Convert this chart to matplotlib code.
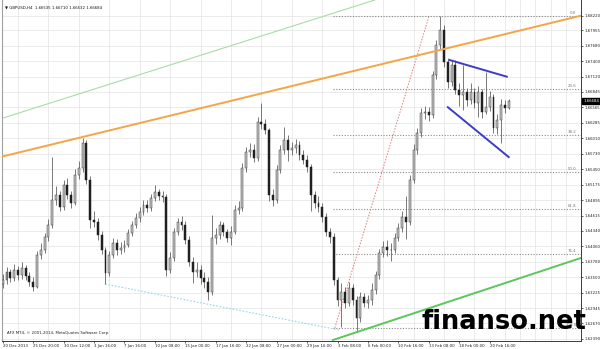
import matplotlib
matplotlib.use('Agg')
import matplotlib.pyplot as plt
import numpy as np

# GBPUSD, candles (each candle = 8 hours)
first_open = 1.6338
closes = [1.6345, 1.6360, 1.6349, 1.6364, 1.6354, 1.6367, 1.6353, 1.6342, 1.6333, 1.6391,
          1.6400, 1.6423, 1.6445, 1.6490, 1.6499, 1.6477, 1.6517, 1.6499, 1.6484, 1.6535,
          1.6547, 1.6592, 1.6526, 1.6454, 1.6450, 1.6427, 1.6400, 1.6358, 1.6391, 1.6412,
          1.6400, 1.6403, 1.6409, 1.6430, 1.6445, 1.6457, 1.6468, 1.6481, 1.6475, 1.6493,
          1.6504, 1.6497, 1.6495, 1.6364, 1.6385, 1.6432, 1.6450, 1.6445, 1.6418, 1.6378,
          1.6360, 1.6364, 1.6349, 1.6342, 1.6324, 1.6421, 1.6427, 1.6445, 1.6432, 1.6421,
          1.6432, 1.6472, 1.6475, 1.6547, 1.6576, 1.6580, 1.6565, 1.6630, 1.6627, 1.6616,
          1.6499, 1.6490, 1.6544, 1.6580, 1.6598, 1.6580, 1.6583, 1.6589, 1.6571, 1.6562,
          1.6549, 1.6499, 1.6484, 1.6477, 1.6459, 1.6432, 1.6423, 1.6345, 1.6309, 1.6324,
          1.6304, 1.6331, 1.6309, 1.6277, 1.6315, 1.6304, 1.6309, 1.6327, 1.6354, 1.6394,
          1.6405, 1.6400, 1.6400, 1.6421, 1.6439, 1.6459, 1.6450, 1.6526, 1.6580, 1.6610,
          1.6646, 1.6648, 1.6643, 1.6715, 1.6769, 1.6796, 1.6739, 1.6702, 1.6733, 1.6688,
          1.6679, 1.6684, 1.6670, 1.6684, 1.6665, 1.6684, 1.6648, 1.6657, 1.6675, 1.6619,
          1.6634, 1.6661, 1.6655, 1.66684]
highs = [1.6356, 1.6368, 1.6366, 1.6375, 1.6370, 1.6378, 1.6372, 1.6360, 1.6350, 1.6398,
         1.6412, 1.6430, 1.6456, 1.6567, 1.6515, 1.6506, 1.6526, 1.6530, 1.6505, 1.6545,
         1.6560, 1.6601, 1.6598, 1.6532, 1.6470, 1.6458, 1.6434, 1.6405, 1.6398, 1.6421,
         1.6420, 1.6413, 1.6418, 1.6437, 1.6452, 1.6466, 1.6477, 1.6490, 1.6489, 1.6501,
         1.6517, 1.6510, 1.6506, 1.6500, 1.6396, 1.6440, 1.6458, 1.6460, 1.6452, 1.6424,
         1.6386, 1.6378, 1.6372, 1.6360, 1.6350, 1.6462, 1.6440, 1.6452, 1.6450, 1.6438,
         1.6442, 1.6480, 1.6488, 1.6556, 1.6586, 1.6592, 1.6590, 1.6640, 1.6665, 1.6636,
         1.6620, 1.6510, 1.6552, 1.6588, 1.6621, 1.6606, 1.6595, 1.6600, 1.6596, 1.6580,
         1.6570, 1.6555, 1.6506, 1.6496, 1.6485, 1.6466, 1.6440, 1.6430, 1.6350, 1.6340,
         1.6332, 1.6342, 1.6338, 1.6316, 1.6324, 1.6322, 1.6318, 1.6340, 1.6362, 1.6402,
         1.6416, 1.6418, 1.6412, 1.6430, 1.6448, 1.6470, 1.6496, 1.6535, 1.6590, 1.6620,
         1.6655, 1.6660, 1.6658, 1.6722, 1.6778, 1.6822, 1.6805, 1.6746, 1.6740, 1.6742,
         1.6700, 1.6733, 1.6692, 1.6700, 1.6692, 1.6696, 1.6690, 1.6720, 1.6686, 1.6680,
         1.6645, 1.6672, 1.6670, 1.66710]
lows = [1.6330, 1.6339, 1.6341, 1.6344, 1.6346, 1.6348, 1.6345, 1.6334, 1.6326, 1.6330,
        1.6383, 1.6394, 1.6416, 1.6440, 1.6480, 1.6470, 1.6472, 1.6491, 1.6475, 1.6480,
        1.6528, 1.6540, 1.6518, 1.6440, 1.6441, 1.6418, 1.6392, 1.6338, 1.6352, 1.6385,
        1.6390, 1.6393, 1.6396, 1.6404, 1.6424, 1.6440, 1.6450, 1.6462, 1.6468, 1.6470,
        1.6487, 1.6490, 1.6486, 1.6353, 1.6358, 1.6380, 1.6426, 1.6436, 1.6410, 1.6370,
        1.6340, 1.6350, 1.6338, 1.6330, 1.6309, 1.6318, 1.6410, 1.6420, 1.6424, 1.6414,
        1.6408, 1.6428, 1.6465, 1.6470, 1.6540, 1.6568, 1.6558, 1.6560, 1.6618, 1.6608,
        1.6488, 1.6478, 1.6485, 1.6538, 1.6572, 1.6560, 1.6570, 1.6575, 1.6562, 1.6554,
        1.6540, 1.6470, 1.6475, 1.6468, 1.6450, 1.6424, 1.6412, 1.6336, 1.6298, 1.6261,
        1.6295, 1.6298, 1.6300, 1.6252, 1.6270, 1.6296, 1.6294, 1.6300, 1.6320, 1.6348,
        1.6386, 1.6388, 1.6380, 1.6394, 1.6415, 1.6432, 1.6420, 1.6444, 1.6520, 1.6572,
        1.6604, 1.6636, 1.6632, 1.6638, 1.6708, 1.6760, 1.6730, 1.6692, 1.6695, 1.6680,
        1.6660, 1.6652, 1.6660, 1.6662, 1.6655, 1.6640, 1.6637, 1.6645, 1.6650, 1.6610,
        1.6608, 1.6592, 1.6646, 1.66532]

date_labels = ['20 Dec 2013', '25 Dec 20:00', '30 Dec 12:00', '3 Jan 16:00', '7 Jan 16:00',
               '10 Jan 08:00', '15 Jan 00:00', '17 Jan 16:00', '22 Jan 08:00', '27 Jan 00:00',
               '29 Jan 16:00', '3 Feb 08:00', '6 Feb 00:00', '10 Feb 16:00', '13 Feb 08:00',
               '18 Feb 00:00', '20 Feb 16:00']
price_ticks = [1.68220, 1.67955, 1.67680, 1.67400, 1.67120, 1.66845, 1.66565, 1.66285,
               1.66010, 1.65730, 1.65450, 1.65175, 1.64895, 1.64615, 1.64340, 1.64060,
               1.63780, 1.63500, 1.63225, 1.62945, 1.62670, 1.62390]
last_price = 1.66684

# fibonacci retracement (low -> high)
fib_start = 86.8
fib_low, fib_high = 1.6259, 1.6822
fib_levels = [0.0, 23.6, 38.2, 50.0, 61.8, 76.4, 100.0]

# trend lines as (bar, price) anchor pairs
orange_line = [(-0.73, 1.6567), (151.97, 1.6822)]
lightgreen_line = [(-0.73, 1.66357), (97.8, 1.68503)]
green_line = [(86.8, 1.62371), (151.97, 1.63850)]
cyan_line = [(26.9, 1.6338), (88.6, 1.6255)]
red_line = [(87.3, 1.6259), (112.0, 1.6820)]
wedge_top = [(117.5, 1.6742), (132.5, 1.6712)]
wedge_bottom = [(117.0, 1.6657), (133.0, 1.6567)]

fig = plt.figure(figsize=(6, 3.49), dpi=100)
ax = fig.add_axes([0.0033, 0.0229, 0.965, 0.9771])

c = np.array(closes)
o = np.array([first_open] + closes[:-1])
h = np.array(highs)
l = np.array(lows)
idx = np.arange(len(c))
up = c >= o

ax.vlines(idx, l, h, color='#555555', lw=0.55, zorder=3)
ax.bar(idx[up], (c - o)[up], bottom=o[up], width=0.5, color='#c4c4c4',
       edgecolor='#3a3a3a', lw=0.35, zorder=4)
ax.bar(idx[~up], (c - o)[~up], bottom=o[~up], width=0.5, color='#202020',
       edgecolor='#202020', lw=0.35, zorder=4)

# lines
ax.axline(orange_line[0], orange_line[1], color='#f4a545', lw=1.4, zorder=5)
ax.axline(lightgreen_line[0], lightgreen_line[1], color='#a9dca9', lw=0.8, zorder=2)
(gx0, gy0), (gx1, gy1) = green_line
ax.plot([gx0, 160], [gy0, gy0 + (gy1 - gy0) * (160 - gx0) / (gx1 - gx0)],
        color='#5cc65c', lw=1.4, zorder=5)
ax.plot(*zip(*cyan_line), color='#98d6ea', lw=0.8, ls=(0, (1.5, 1.5)), zorder=2)
ax.plot(*zip(*red_line), color='#e07b7b', lw=0.7, ls=(0, (1.5, 1.5)), zorder=2)
ax.plot(*zip(*wedge_top), color='#3c3cc8', lw=1.4, zorder=5)
ax.plot(*zip(*wedge_bottom), color='#3c3cc8', lw=1.4, zorder=5)

for lev in fib_levels:
    p = fib_high - (fib_high - fib_low) * lev / 100
    ax.plot([fib_start, 153], [p, p], color='#8a8a8a', lw=0.8, ls=(0, (1, 1.5)), zorder=2)
    ax.text(150.8, p + 0.0002, '%.1f' % lev, fontsize=2.8, color='#777777',
            ha='right', va='bottom', zorder=6)

ax.set_xlim(-0.2, 152.0)
ax.set_ylim(1.62353, 1.68503)

ax.yaxis.tick_right()
ax.set_yticks(price_ticks)
ax.set_yticklabels(['%.5f' % p for p in price_ticks])
ax.set_xticks(np.arange(0, 8 * len(date_labels), 8))
ax.set_xticklabels(date_labels)
plt.setp(ax.get_xticklabels(), ha='left')
ax.set_xticks(np.arange(0, 153, 4), minor=True)
ax.tick_params(axis='both', labelsize=2.8, length=1.5, width=0.5, pad=0.8, colors='#222222')
ax.tick_params(axis='x', which='minor', length=0)
ax.grid(axis='x', which='minor', color='#e3e3e3', lw=0.5)
ax.grid(axis='y', which='major', color='#e3e3e3', lw=0.5)
ax.set_axisbelow(True)

ax.spines['top'].set_visible(False)
ax.spines['left'].set_color('#a0a0a0')
for s in ['right', 'bottom']:
    ax.spines[s].set_color('#3a3a3a')
    ax.spines[s].set_linewidth(0.7)

ax.annotate('%.5f' % last_price, xy=(1.0, last_price), xycoords=('axes fraction', 'data'),
            xytext=(1.5, 0), textcoords='offset points', fontsize=2.8, color='white',
            va='center', ha='left', zorder=10,
            bbox=dict(boxstyle='square,pad=0.25', fc='black', ec='black'))

ax.text(0.006, 0.985, '\u25bc GBPUSD,H4  1.66535 1.66710 1.66532 1.66684',
        transform=ax.transAxes, fontsize=2.8, va='top', ha='left', color='#111111')
ax.text(0.008, 0.018, 'AFX MT4, \u00a9 2001-2014, MetaQuotes Software Corp.',
        transform=ax.transAxes, fontsize=2.8, va='bottom', ha='left', color='#222222')

fig.text(0.84, 0.077, 'finanso.net', fontsize=18.5, fontweight='bold', color='black',
         ha='center', va='center', zorder=20)

fig.savefig('out.png', dpi=100)
